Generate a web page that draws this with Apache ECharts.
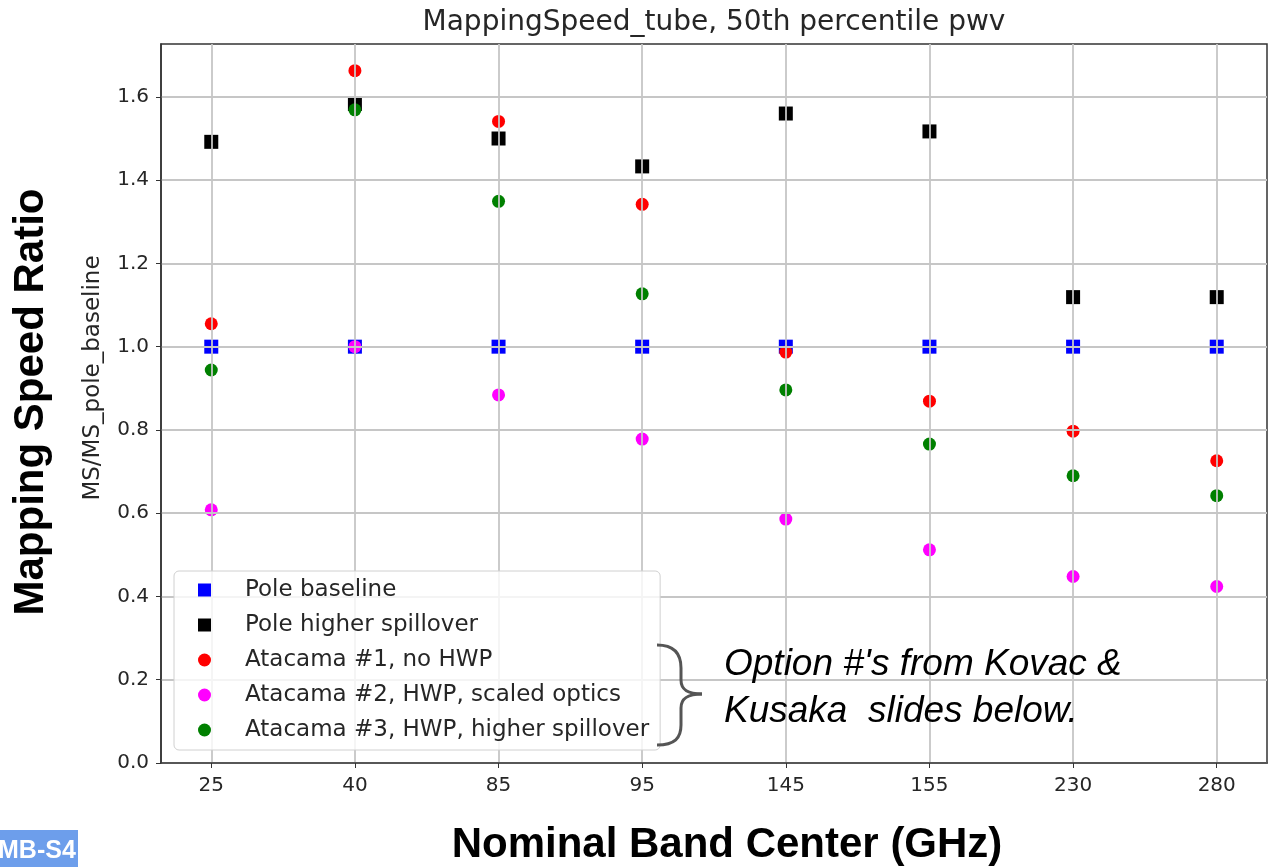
<!DOCTYPE html>
<html>
<head>
<meta charset="utf-8">
<script src="https://cdn.jsdelivr.net/npm/echarts@6/dist/echarts.min.js"></script>
<style>
  html, body { margin: 0; padding: 0; background: #ffffff; }
  #chart { width: 1268px; height: 867px; }
</style>
</head>
<body>
<div id="chart"></div>
<script>
// band centres (GHz) on the x axis
const categories = ['25', '40', '85', '95', '145', '155', '230', '280']
const yTickLabels = ['0.0', '0.2', '0.4', '0.6', '0.8', '1.0', '1.2', '1.4', '1.6']

// MS / MS_pole_baseline
const poleBaseline = [1.0, 1.0, 1.0, 1.0, 1.0, 1.0, 1.0, 1.0]
const poleHigherSpill = [1.492, 1.583, 1.500, 1.433, 1.560, 1.517, 1.119, 1.119]
const atacama1 = [1.055, 1.663, 1.541, 1.342, 0.987, 0.869, 0.797, 0.726]
const atacama2 = [0.608, 1.0, 0.884, 0.778, 0.586, 0.512, 0.448, 0.424]
const atacama3 = [0.944, 1.569, 1.349, 1.127, 0.896, 0.766, 0.690, 0.642]

const seriesNames = [
  'Pole baseline',
  'Pole higher spillover',
  'Atacama #1, no HWP',
  'Atacama #2, HWP, scaled optics',
  'Atacama #3, HWP, higher spillover'
]

const FONT = 'DejaVu Sans'
const xTicks = categories.map((c, i) => i)
const yTicks = yTickLabels.map(t => parseFloat(t))

function toPoints(arr) {
  return arr.map((v, i) => [i, v])
}

function scatter(name, arr, symbol, size, color) {
  return {
    name: name,
    type: 'scatter',
    symbol: symbol,
    symbolSize: size,
    itemStyle: { color: color, opacity: 1 },
    data: toPoints(arr)
  }
}

// curly brace next to the three Atacama entries
const braceStyle = { stroke: '#555', lineWidth: 3, fill: null }
function curve(x1, y1, cpx1, cpy1, cpx2, cpy2, x2, y2) {
  return { type: 'bezierCurve', z: 10, shape: { x1, y1, cpx1, cpy1, cpx2, cpy2, x2, y2 }, style: braceStyle }
}
function seg(x1, y1, x2, y2) {
  return { type: 'line', z: 10, shape: { x1, y1, x2, y2 }, style: braceStyle }
}

const chart = echarts.init(document.getElementById('chart'))
chart.setOption({
  animation: false,
  backgroundColor: '#ffffff',
  grid: {
    left: 161,
    right: 1,
    top: 44,
    bottom: 104,
    show: true,
    borderColor: '#333',
    borderWidth: 1.5,
    backgroundColor: 'transparent'
  },
  xAxis: {
    type: 'value',
    min: -0.35,
    max: 7.35,
    z: 3,
    axisLine: { show: true, onZero: false, lineStyle: { color: '#333', width: 1.5 } },
    axisTick: { show: true, customValues: xTicks, length: 5, lineStyle: { color: '#333' } },
    axisLabel: {
      customValues: xTicks,
      formatter: v => categories[Math.round(v)],
      fontFamily: FONT,
      fontSize: 20,
      color: '#262626',
      margin: 13
    },
    splitLine: { show: true, lineStyle: { color: '#c6c6c6', width: 1.8 } }
  },
  yAxis: {
    type: 'value',
    min: 0,
    max: 1.727,
    z: 3,
    axisLine: { show: true, onZero: false, lineStyle: { color: '#333', width: 1.5 } },
    axisTick: { show: true, customValues: yTicks, length: 5, lineStyle: { color: '#333' } },
    axisLabel: {
      customValues: yTicks,
      formatter: v => v.toFixed(1),
      fontFamily: FONT,
      fontSize: 20,
      color: '#262626',
      margin: 12
    },
    splitLine: { show: true, lineStyle: { color: '#c6c6c6', width: 1.8 } }
  },
  legend: {
    orient: 'vertical',
    left: 174,
    top: 571,
    itemWidth: 13,
    itemHeight: 13,
    itemGap: 11,
    padding: [7, 11, 8, 24],
    backgroundColor: 'rgba(255,255,255,0.8)',
    borderColor: '#d0d0d0',
    borderWidth: 1,
    borderRadius: 5,
    textStyle: {
      fontFamily: FONT,
      fontSize: 23,
      color: '#262626',
      lineHeight: 24,
      padding: [0, 0, 0, 29]
    },
    data: [
      { name: seriesNames[0], icon: 'rect' },
      { name: seriesNames[1], icon: 'rect' },
      { name: seriesNames[2], icon: 'circle' },
      { name: seriesNames[3], icon: 'circle' },
      { name: seriesNames[4], icon: 'circle' }
    ]
  },
  series: [
    scatter(seriesNames[0], poleBaseline, 'rect', 14, '#0000ff'),
    scatter(seriesNames[1], poleHigherSpill, 'rect', 14, '#000000'),
    scatter(seriesNames[2], atacama1, 'circle', 13, '#ff0000'),
    scatter(seriesNames[3], atacama2, 'circle', 13, '#ff00ff'),
    scatter(seriesNames[4], atacama3, 'circle', 13, '#008000')
  ],
  graphic: [
    {
      type: 'text', x: 714, y: 23,
      style: {
        text: 'MappingSpeed_tube, 50th percentile pwv',
        font: '28px "DejaVu Sans"', fill: '#262626',
        align: 'center', verticalAlign: 'middle'
      }
    },
    {
      type: 'text', x: 93, y: 378, rotation: Math.PI / 2,
      style: {
        text: 'MS/MS_pole_baseline',
        font: '23px "DejaVu Sans"', fill: '#262626',
        align: 'center', verticalAlign: 'middle'
      }
    },
    {
      type: 'text', x: 31, y: 402, rotation: Math.PI / 2,
      style: {
        text: 'Mapping Speed Ratio',
        font: 'bold 42px "Liberation Sans"', fill: '#000',
        align: 'center', verticalAlign: 'middle'
      }
    },
    {
      type: 'text', x: 727, y: 845,
      style: {
        text: 'Nominal Band Center (GHz)',
        font: 'bold 42px "Liberation Sans"', fill: '#000',
        align: 'center', verticalAlign: 'middle'
      }
    },
    curve(657, 645, 675, 645, 681, 655, 681, 668),
    seg(681, 668, 681, 680),
    curve(681, 680, 681, 690, 688, 694, 702, 694),
    curve(702, 694, 688, 694, 681, 698, 681, 708),
    seg(681, 708, 681, 725),
    curve(681, 725, 681, 738, 675, 745, 657, 745),
    {
      type: 'text', x: 724, y: 665, z: 10,
      style: {
        text: 'Option #\'s from Kovac &',
        font: 'italic 37px "Liberation Sans"', fill: '#000',
        align: 'left', verticalAlign: 'middle'
      }
    },
    {
      type: 'text', x: 724, y: 712, z: 10,
      style: {
        text: 'Kusaka  slides below.',
        font: 'italic 37px "Liberation Sans"', fill: '#000',
        align: 'left', verticalAlign: 'middle'
      }
    },
    {
      type: 'rect', z: 10,
      shape: { x: 0, y: 830, width: 78, height: 37 },
      style: { fill: '#6d9eeb' }
    },
    {
      type: 'text', x: -2, y: 851, z: 11,
      style: {
        text: 'MB-S4',
        font: 'bold 25px "Liberation Sans"', fill: '#ffffff',
        align: 'left', verticalAlign: 'middle'
      }
    }
  ]
})
</script>
</body>
</html>
